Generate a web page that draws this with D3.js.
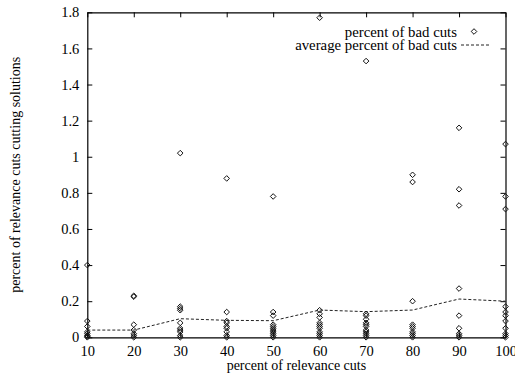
<!DOCTYPE html>
<html>
<head>
<meta charset="utf-8">
<script src="https://cdn.jsdelivr.net/npm/d3@7"></script>
<style>
  body { margin: 0; background: #fff; }
  text { font-family: "Liberation Serif", "Times New Roman", serif; fill: #000; }
</style>
</head>
<body>
<div id="chart"></div>
<script>
// x categories (percent of relevance cuts)
var cuts = [10, 20, 30, 40, 50, 60, 70, 80, 90, 100];
// individual runs: percent of bad cuts, one list per category
var badCuts = [
  [0.40, 0.09, 0.06, 0.03, 0.02, 0.01, 0.005, 0],
  [0.23, 0.225, 0.07, 0.04, 0.02, 0.01, 0],
  [1.02, 0.17, 0.16, 0.15, 0.08, 0.05, 0.04, 0.03, 0.01, 0],
  [0.88, 0.14, 0.09, 0.08, 0.06, 0.05, 0.03, 0.01, 0],
  [0.78, 0.14, 0.12, 0.07, 0.06, 0.05, 0.04, 0.03, 0.02, 0.01, 0],
  [1.77, 0.15, 0.13, 0.11, 0.08, 0.07, 0.06, 0.05, 0.03, 0.02, 0.01, 0],
  [1.53, 0.13, 0.12, 0.10, 0.08, 0.07, 0.06, 0.04, 0.03, 0.02, 0.01, 0],
  [0.90, 0.86, 0.20, 0.07, 0.06, 0.05, 0.03, 0.02, 0.01, 0],
  [1.16, 0.82, 0.73, 0.27, 0.12, 0.05, 0.02, 0.01, 0],
  [1.07, 0.78, 0.71, 0.17, 0.14, 0.12, 0.09, 0.05, 0.02, 0.01, 0]
];
// average per category
var avgBadCuts = [0.04, 0.04, 0.103, 0.094, 0.092, 0.151, 0.142, 0.151, 0.212, 0.20];
var yTicks = [0, 0.2, 0.4, 0.6, 0.8, 1, 1.2, 1.4, 1.6, 1.8];

var width = 515, height = 375;
var mLeft = 87.3, mRight = 505.5, mTop = 12.3, mBottom = 337.3;

var svg = d3.select("#chart").append("svg")
	.attr("width", width)
	.attr("height", height);

var x = d3.scaleLinear().domain([10, 100]).range([mLeft, mRight]);
var y = d3.scaleLinear().domain([0, 1.8]).range([mBottom, mTop]);

// frame with inward ticks on all four sides
var g = svg.append("g");
g.append("g")
	.attr("transform", "translate(0," + mBottom + ")")
	.call(d3.axisBottom(x).tickValues(cuts).tickSize(-5).tickPadding(8).tickSizeOuter(0));
g.append("g")
	.attr("transform", "translate(0," + mTop + ")")
	.call(d3.axisTop(x).tickValues(cuts).tickSize(-5).tickFormat("").tickSizeOuter(0));
g.append("g")
	.attr("transform", "translate(" + mLeft + ",0)")
	.call(d3.axisLeft(y).tickValues(yTicks).tickSize(-5).tickPadding(8).tickSizeOuter(0).tickFormat(d3.format("")));
g.append("g")
	.attr("transform", "translate(" + mRight + ",0)")
	.call(d3.axisRight(y).tickValues(yTicks).tickSize(-5).tickFormat("").tickSizeOuter(0));
g.selectAll(".domain").attr("stroke", "#000").attr("stroke-width", 1.2);
g.selectAll(".tick line").attr("stroke", "#000");
g.selectAll("g").attr("font-family", null).attr("font-size", null);
g.selectAll(".tick text").style("font-size", "14.5px");

// axis titles
svg.append("text")
	.attr("x", (mLeft + mRight) / 2)
	.attr("y", 370)
	.attr("text-anchor", "middle")
	.style("font-size", "14px")
	.text("percent of relevance cuts");
svg.append("text")
	.attr("transform", "translate(20," + ((mTop + mBottom) / 2) + ") rotate(-90)")
	.attr("text-anchor", "middle")
	.style("font-size", "14px")
	.text("percent of relevance cuts cutting solutions");

// average line
var line = d3.line()
	.x(function(d, i) {return x(cuts[i]);})
	.y(function(d) {return y(d);});
svg.append("path")
	.datum(avgBadCuts)
	.attr("d", line)
	.attr("fill", "none")
	.attr("stroke", "#222")
	.attr("stroke-width", 1)
	.attr("stroke-dasharray", "3,2");

// points
var points = [];
badCuts.forEach(function(list, i) {
	list.forEach(function(v) { points.push({x: cuts[i], v: v}); });
});
var diamond = "M0,-2.8L2.8,0L0,2.8L-2.8,0Z";
svg.append("g").selectAll("path")
	.data(points)
	.enter()
	.append("path")
	.attr("d", diamond)
	.attr("transform", function(d) {return "translate(" + x(d.x) + "," + y(d.v) + ")";})
	.attr("fill", "none")
	.attr("stroke", "#111")
	.attr("stroke-width", 1);

// legend
var legend = svg.append("g");
legend.append("text")
	.attr("x", 457).attr("y", 36.5)
	.attr("text-anchor", "end")
	.style("font-size", "14.8px")
	.text("percent of bad cuts");
legend.append("path")
	.attr("d", diamond)
	.attr("transform", "translate(474,31.5)")
	.attr("fill", "none")
	.attr("stroke", "#111");
legend.append("text")
	.attr("x", 457).attr("y", 50)
	.attr("text-anchor", "end")
	.style("font-size", "14.8px")
	.text("average percent of bad cuts");
legend.append("line")
	.attr("x1", 461).attr("x2", 491)
	.attr("y1", 45).attr("y2", 45)
	.attr("stroke", "#222")
	.attr("stroke-dasharray", "3,2");
</script>
</body>
</html>
